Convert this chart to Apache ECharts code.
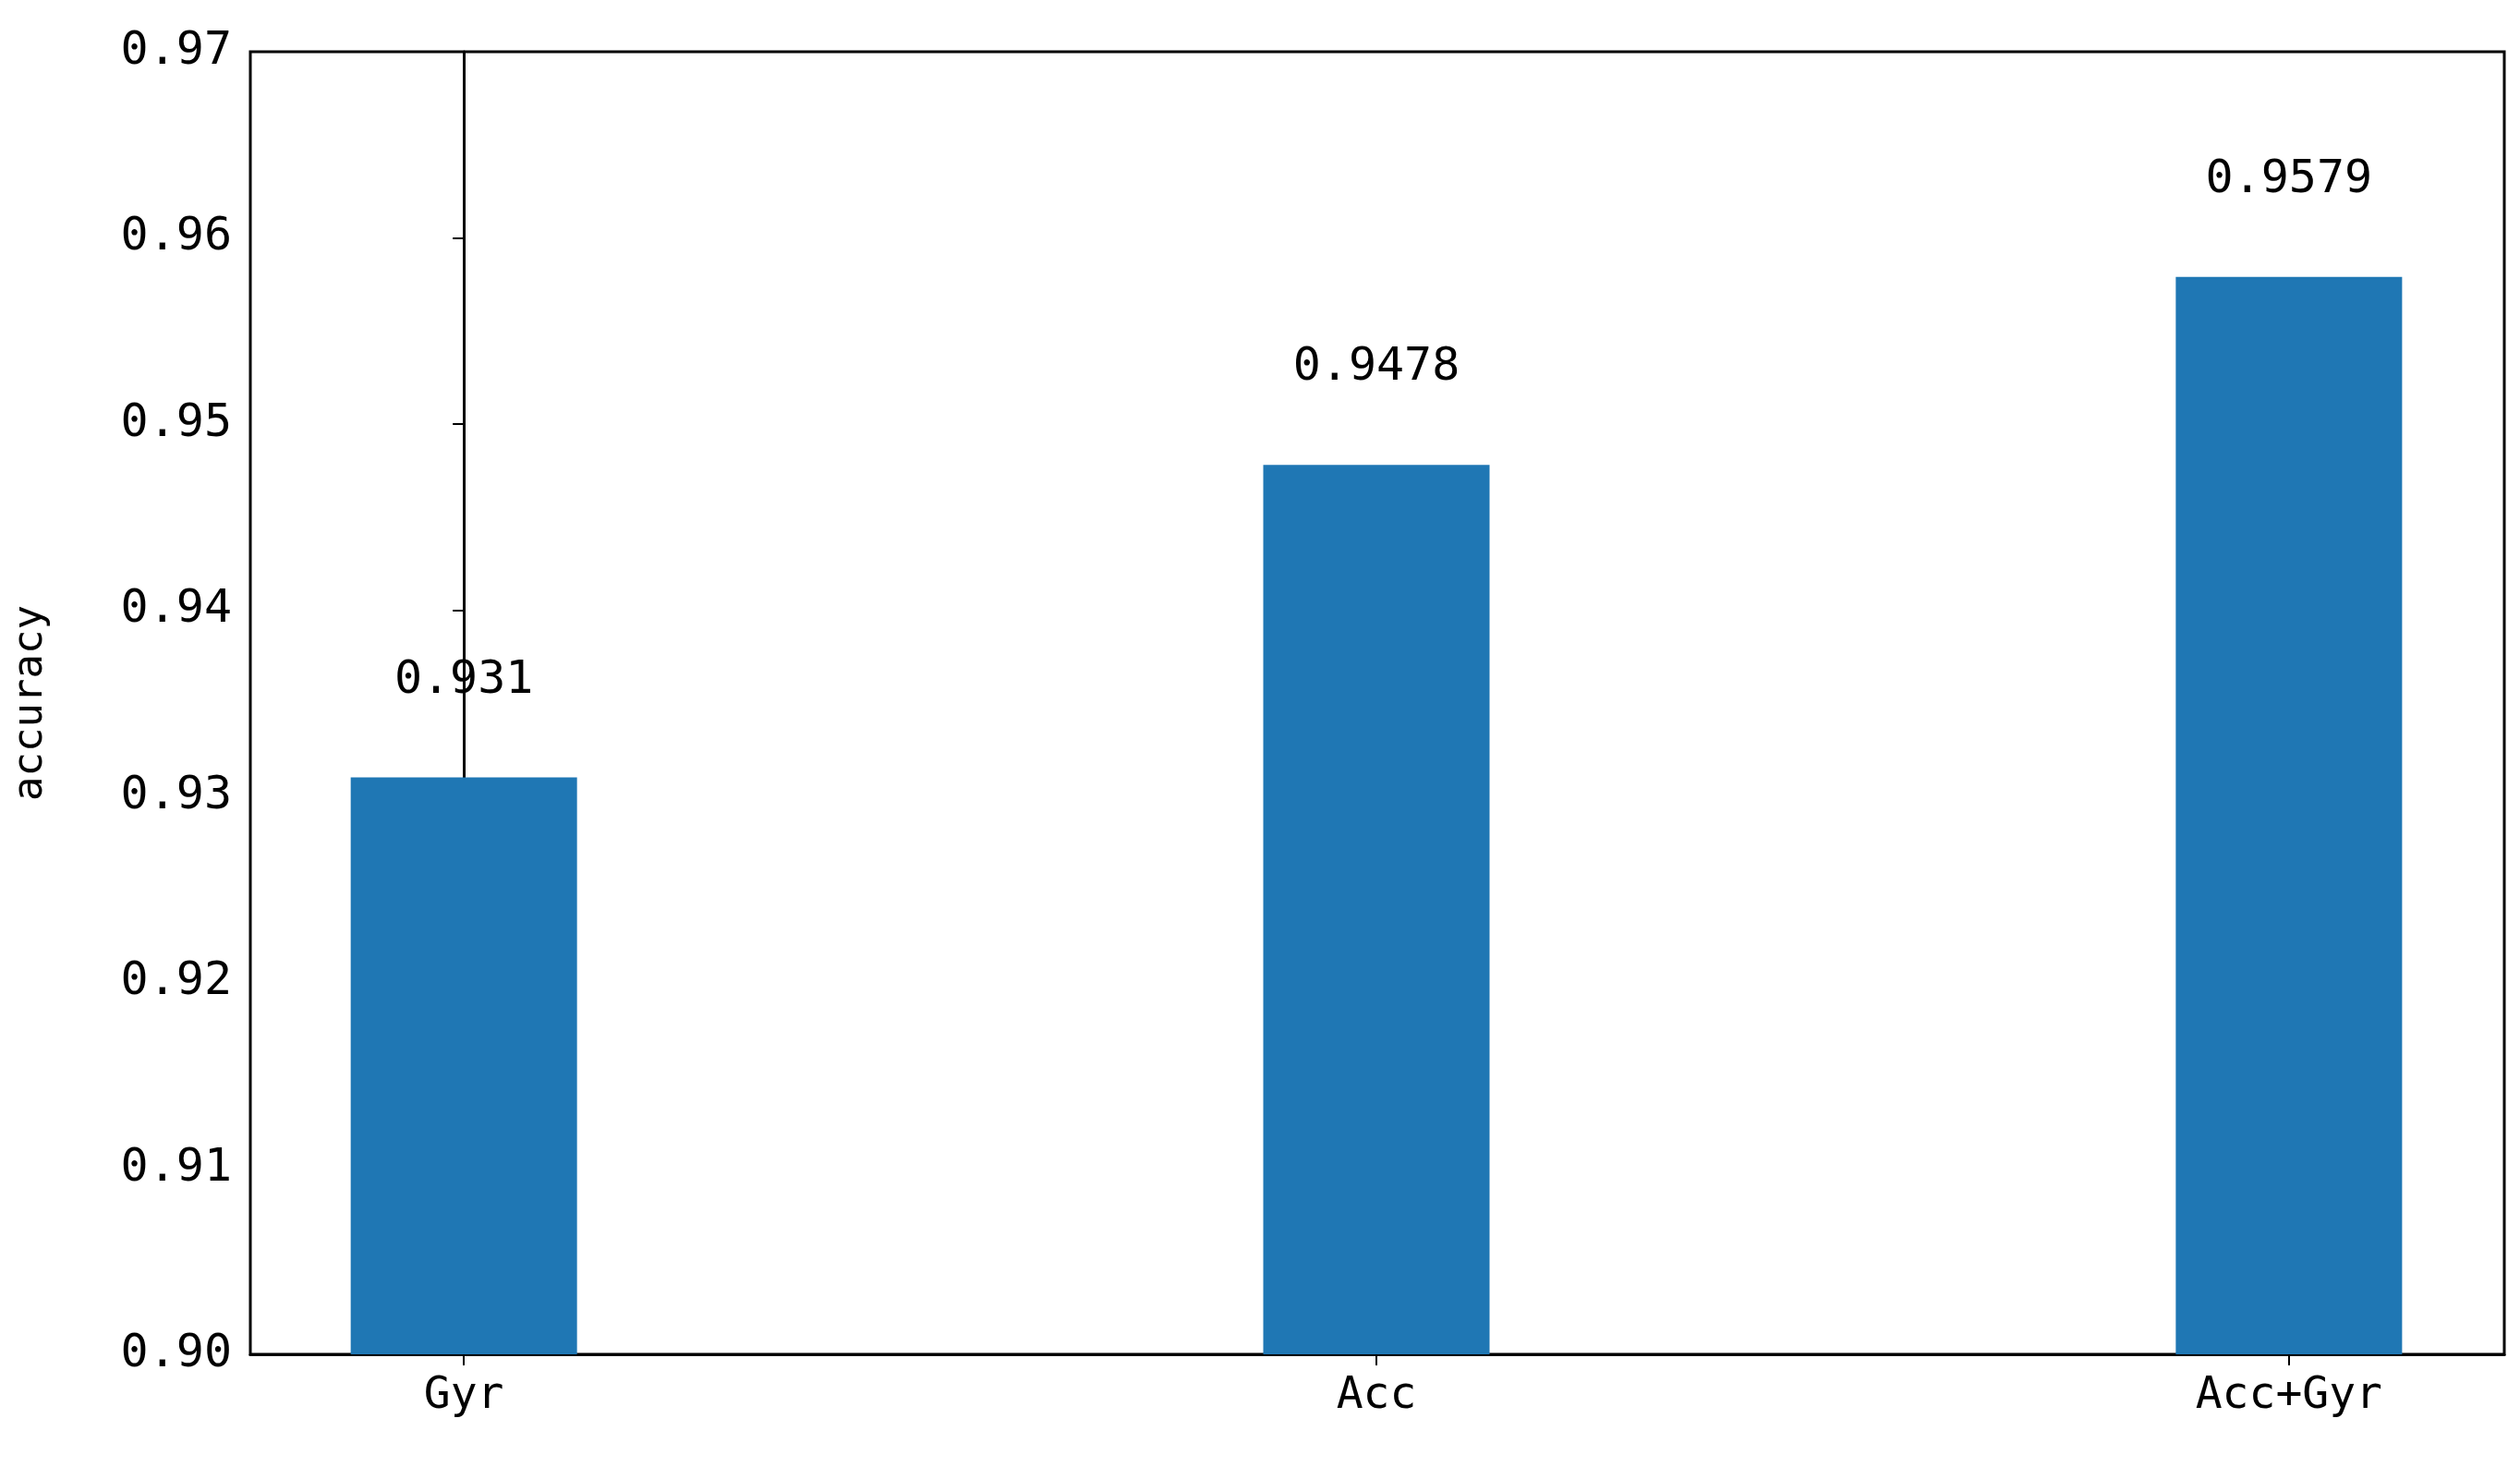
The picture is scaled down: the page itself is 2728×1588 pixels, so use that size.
<!DOCTYPE html>
<html>
<head>
<meta charset="utf-8">
<script src="https://cdn.jsdelivr.net/npm/echarts@6/dist/echarts.min.js"></script>
<style>html,body{margin:0;padding:0;background:#fff}#chart{width:2728px;height:1588px}</style>
</head>
<body>
<div id="chart"></div>
<script>
/* 資料 */
const categories = ["Gyr", "Acc", "Acc+Gyr"];
const accuracy = [0.931, 0.9478, 0.9579];
const yTicks = [0.90, 0.91, 0.92, 0.93, 0.94, 0.95, 0.96, 0.97];

const font = "DejaVu Sans Mono";
const chart = echarts.init(document.getElementById("chart"));
chart.setOption({
	animation: false,
	grid: {
		left: 271,
		right: 17,
		top: 56,
		bottom: 122,
		show: true,
		borderColor: "#000",
		borderWidth: 3,
	},
	xAxis: {
		type: "value",
		min: -0.234,
		max: 2.236,
		splitLine: { show: false },
		axisLine: { lineStyle: { color: "#000", width: 3 } },
		axisTick: { customValues: [0, 1, 2], length: 12, lineStyle: { color: "#000", width: 2 } },
		axisLabel: {
			customValues: [0, 1, 2],
			formatter: (v) => categories[Math.round(v)],
			fontFamily: font,
			fontSize: 48,
			color: "#000",
			margin: 22,
		},
	},
	yAxis: {
		type: "value",
		min: 0.9,
		max: 0.97,
		name: "accuracy",
		nameLocation: "middle",
		nameGap: 215,
		nameTextStyle: { fontFamily: font, fontSize: 44, color: "#000" },
		splitLine: { show: false },
		axisLine: { show: true, lineStyle: { color: "#000", width: 3 } },
		axisTick: { show: true, length: 12, lineStyle: { color: "#000", width: 2 } },
		axisLabel: {
			customValues: yTicks,
			formatter: (v) => v.toFixed(2),
			fontFamily: font,
			fontSize: 50,
			color: "#000",
			margin: 20,
		},
	},
	series: [
		{
			type: "bar",
			barWidth: 245,
			data: accuracy.map((v, i) => [i, v]),
			itemStyle: { color: "#1f77b4" },
			label: {
				show: true,
				position: "top",
				distance: 80,
				formatter: (p) => String(p.data[1]),
				fontFamily: font,
				fontSize: 50,
				color: "#000",
			},
		},
	],
});
</script>
</body>
</html>
